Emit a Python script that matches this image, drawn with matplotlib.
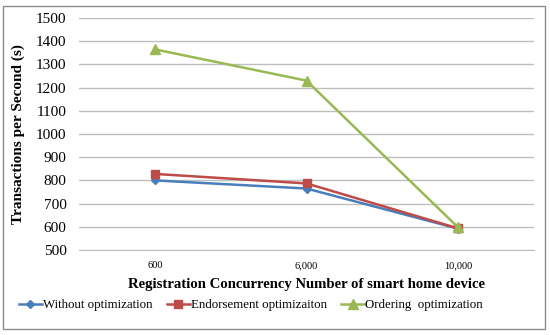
import matplotlib
matplotlib.use("Agg")
import matplotlib.pyplot as plt
from matplotlib.patches import Rectangle

categories = ["600", "6,000", "10,000"]
without_opt = [800, 765, 592]
endorse_opt = [828, 787, 593]
ordering_opt = [1365, 1230, 597]
yticks = [500, 600, 700, 800, 900, 1000, 1100, 1200, 1300, 1400, 1500]

plt.rcParams['font.family'] = ['Liberation Serif', 'DejaVu Serif']

fig = plt.figure(figsize=(5.5, 3.35), dpi=100)
ax = fig.add_axes([79/550, 1-250/335, (534-79)/550, (250-18)/335])

x = list(range(len(categories)))
ax.plot(x, without_opt, color='#4A7EBB', marker='D', markersize=4.5, lw=1.8,
        label='Without optimization')
ax.plot(x, endorse_opt, color='#BE4B48', marker='s', markersize=6, lw=1.8,
        label='Endorsement optimizaiton')
ax.plot(x, ordering_opt, color='#98B954', marker='^', markersize=6.5, lw=1.8,
        label='Ordering  optimization')

ax.set_xlim(-0.5, len(categories) - 0.5)
ax.set_ylim(500, 1500)
ax.set_yticks(yticks)
ax.set_xticks(x)
ax.set_xticklabels(categories, fontsize=7.5)
ax.tick_params(axis='y', labelsize=11, length=0, pad=9)
ax.tick_params(axis='x', length=0, pad=8)
ax.yaxis.grid(True, color='#BFBFBF', lw=1.0)
ax.set_axisbelow(True)
for s in ['top', 'right', 'left']:
    ax.spines[s].set_visible(False)
ax.spines['bottom'].set_color('#BFBFBF')

ax.set_ylabel('Transactions per Second (s)', fontsize=11, fontweight='bold', labelpad=8)
ax.set_xlabel('Registration Concurrency Number of smart home device', fontsize=10.6,
              fontweight='bold', labelpad=6)

leg = fig.legend(loc='center left', bbox_to_anchor=(19/550, 1-305/335), ncol=3, frameon=False,
                 fontsize=9.3, handlelength=1.75, columnspacing=1.15, handletextpad=0.08,
                 borderaxespad=0, borderpad=0)

fig.patches.append(Rectangle((3/550, 1-329/335), 542/550, 323/335, transform=fig.transFigure,
                             fill=False, edgecolor='#8C8C8C', lw=1.0))

fig.savefig('out.png', dpi=100)
